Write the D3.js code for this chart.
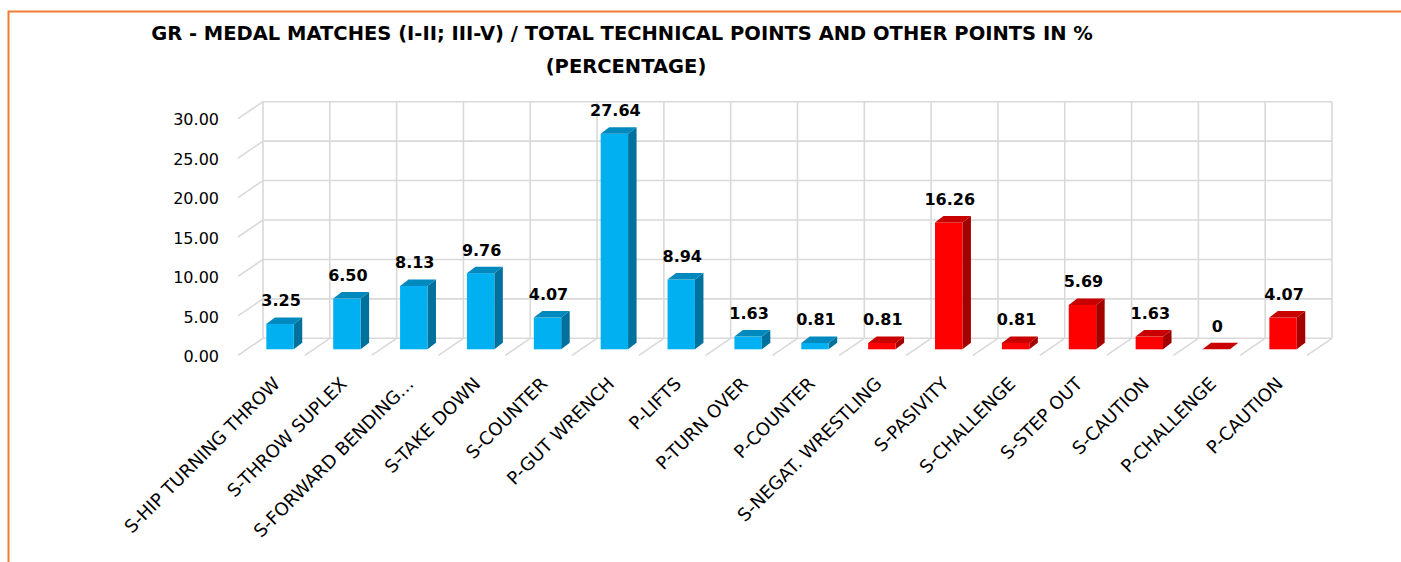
<!DOCTYPE html>
<html>
<head>
<meta charset="utf-8">
<script src="https://cdn.jsdelivr.net/npm/d3@7"></script>
<style>
  body { margin: 0; background: #fff; }
  svg { display: block; font-family: "DejaVu Sans", sans-serif; }
</style>
</head>
<body>
<svg width="1401" height="562"></svg>
<script>
const categories = [
  "S-HIP TURNING THROW", "S-THROW SUPLEX", "S-FORWARD BENDING…", "S-TAKE DOWN",
  "S-COUNTER", "P-GUT WRENCH", "P-LIFTS", "P-TURN OVER", "P-COUNTER",
  "S-NEGAT. WRESTLING", "S-PASIVITY", "S-CHALLENGE", "S-STEP OUT",
  "S-CAUTION", "P-CHALLENGE", "P-CAUTION"
];
const values = [3.25, 6.50, 8.13, 9.76, 4.07, 27.64, 8.94, 1.63, 0.81, 0.81, 16.26, 0.81, 5.69, 1.63, 0, 4.07];
const groups = ["tech", "tech", "tech", "tech", "tech", "tech", "tech", "tech", "tech",
  "other", "other", "other", "other", "other", "other", "other"];
const yTicks = [0, 5, 10, 15, 20, 25, 30];

const svg = d3.select("svg");

// frame
svg.append("rect")
  .attr("x", 8.5).attr("y", 11.5)
  .attr("width", 1500).attr("height", 700)
  .attr("fill", "none")
  .attr("stroke", "#ED7D31")
  .attr("stroke-width", 2);

// title
const title = svg.append("text")
  .attr("text-anchor", "middle")
  .attr("font-weight", "bold")
  .attr("font-size", "19.5px")
  .attr("fill", "#000");
title.append("tspan").attr("x", 622).attr("y", 40)
  .text("GR - MEDAL MATCHES (I-II; III-V) / TOTAL TECHNICAL POINTS AND OTHER POINTS IN %");
title.append("tspan").attr("x", 626).attr("y", 73)
  .text("(PERCENTAGE)");

// 3D offsets
const depth = { dx: -25, dy: 17 };   // back wall -> front floor edge
const barDepth = { dx: 8.5, dy: -6.5 };

// back wall scales
const xBack = d3.scaleBand().domain(categories).range([263, 1332]);
const yBack = d3.scaleLinear().domain([0, 30]).range([338.3, 101.7]);

// bar front plane scales
const xFront = d3.scaleBand().domain(categories).range([246.6, 1316.5]);
const yFront = d3.scaleLinear().domain([0, 30]).range([349.3, 115.3]);

const color = d3.scaleOrdinal().domain(["tech", "other"]).range(["#00B0F0", "#FF0000"]);
const sideColor = d3.scaleOrdinal().domain(["tech", "other"]).range(["#00719C", "#A30000"]);
const topColor = d3.scaleOrdinal().domain(["tech", "other"]).range(["#0089BD", "#C80000"]);

const grid = svg.append("g")
  .attr("stroke", "#D9D9D9")
  .attr("stroke-width", 1.6)
  .attr("fill", "none");

// horizontal gridlines on back wall + side wall diagonals
yTicks.forEach(t => {
  grid.append("line")
    .attr("x1", xBack.range()[0]).attr("x2", xBack.range()[1])
    .attr("y1", yBack(t)).attr("y2", yBack(t));
  grid.append("line")
    .attr("x1", xBack.range()[0]).attr("y1", yBack(t))
    .attr("x2", xBack.range()[0] + depth.dx).attr("y2", yBack(t) + depth.dy);
});

// vertical gridlines + floor diagonals at category boundaries
const bounds = categories.map(c => xBack(c)).concat([xBack.range()[1]]);
bounds.forEach(x => {
  grid.append("line")
    .attr("x1", x).attr("x2", x)
    .attr("y1", yBack(30)).attr("y2", yBack(0));
  if (x > xBack.range()[0]) {
    grid.append("line")
      .attr("x1", x).attr("y1", yBack(0))
      .attr("x2", x + depth.dx).attr("y2", yBack(0) + depth.dy);
  }
});

// y tick labels
svg.append("g")
  .selectAll("text")
  .data(yTicks)
  .join("text")
  .attr("x", 219)
  .attr("y", d => yBack(d) + depth.dy + 1)
  .attr("dy", "0.36em")
  .attr("text-anchor", "end")
  .attr("font-size", "16px")
  .attr("fill", "#000")
  .text(d => d.toFixed(2));

// bars
const barW = 27.4;
const data = categories.map((c, i) => ({ cat: c, value: values[i], group: groups[i] }));

const bars = svg.append("g")
  .selectAll("g")
  .data(data)
  .join("g");

bars.each(function(d) {
  const g = d3.select(this);
  const cx = xFront(d.cat) + xFront.bandwidth() / 2;
  const x0 = cx - barW / 2, x1 = cx + barW / 2;
  const yb = yFront(0), yt = yFront(d.value);
  const { dx, dy } = barDepth;

  if (d.value > 0) {
    g.append("path")
      .attr("d", `M${x1},${yb}L${x1 + dx},${yb + dy}L${x1 + dx},${yt + dy}L${x1},${yt}Z`)
      .attr("fill", sideColor(d.group));
    g.append("rect")
      .attr("x", x0).attr("y", yt)
      .attr("width", barW).attr("height", yb - yt)
      .attr("fill", color(d.group));
  }
  g.append("path")
    .attr("d", `M${x0},${yt}L${x0 + dx},${yt + dy}L${x1 + dx},${yt + dy}L${x1},${yt}Z`)
    .attr("fill", topColor(d.group));
});

// data labels
svg.append("g")
  .selectAll("text")
  .data(data)
  .join("text")
  .attr("x", d => xFront(d.cat) + xFront.bandwidth() / 2 + 1)
  .attr("y", d => yFront(d.value) - 17.5)
  .attr("text-anchor", "middle")
  .attr("font-weight", "bold")
  .attr("font-size", "16px")
  .attr("fill", "#000")
  .text(d => d.value === 0 ? "0" : d.value.toFixed(2));

// category labels
svg.append("g")
  .selectAll("text")
  .data(categories)
  .join("text")
  .attr("transform", c => `translate(${xFront(c) + xFront.bandwidth() / 2 + 1},385) rotate(-45)`)
  .attr("text-anchor", "end")
  .attr("font-size", "18px")
  .attr("fill", "#000")
  .text(c => c);
</script>
</body>
</html>
